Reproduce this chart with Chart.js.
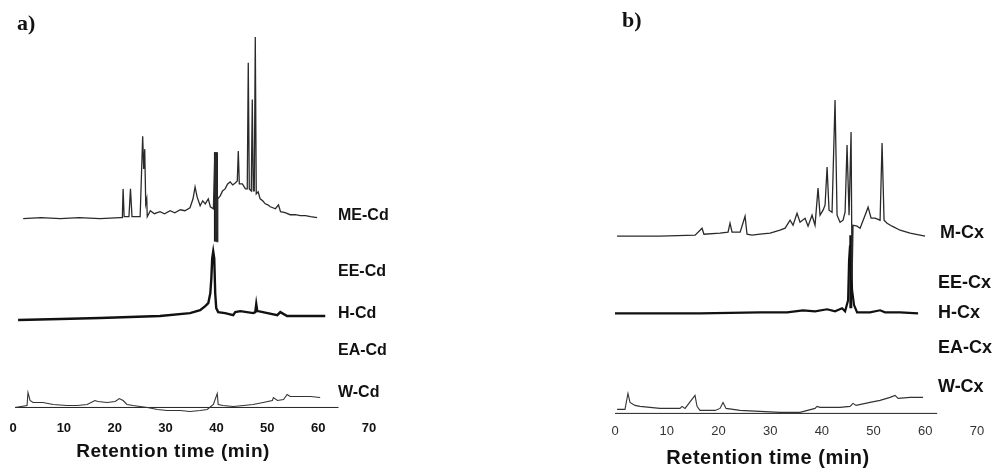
<!DOCTYPE html>
<html>
<head>
<meta charset="UTF-8" />
<title>Retention time chromatograms</title>
<script src="https://cdn.jsdelivr.net/npm/chart.js"></script>
<style>
  body { margin: 0; background: #fff; }
  #page { position: relative; width: 1007px; height: 472px; overflow: hidden; font-family: "Liberation Sans", Arial, sans-serif; color: #111; }
  .panel { position: absolute; top: 0; height: 472px; }
  .tag { position: absolute; font-family: "Liberation Serif", serif; font-weight: bold; font-size: 22px; line-height: 22px; }
  .lbl { position: absolute; font-weight: bold; line-height: 16px; white-space: nowrap; }
  .ax { position: absolute; font-weight: bold; white-space: nowrap; letter-spacing: 0.5px; transform: translate(-50%, -50%); }
</style>
</head>
<body>
<div id="page">
  <div class="panel" style="left:0;width:400px"><canvas id="chartA" width="400" height="472"></canvas></div>
  <div class="panel" style="left:590px;width:417px"><canvas id="chartB" width="417" height="472"></canvas></div>

  <div class="tag" style="left:17px;top:12px">a)</div>
  <div class="tag" style="left:622px;top:9px">b)</div>

  <div class="lbl" style="left:338px;top:207px;font-size:16px">ME-Cd</div>
  <div class="lbl" style="left:338px;top:263px;font-size:16px">EE-Cd</div>
  <div class="lbl" style="left:338px;top:305px;font-size:16px">H-Cd</div>
  <div class="lbl" style="left:338px;top:342px;font-size:16px">EA-Cd</div>
  <div class="lbl" style="left:338px;top:384px;font-size:16px">W-Cd</div>

  <div class="lbl" style="left:940px;top:224px;font-size:18px">M-Cx</div>
  <div class="lbl" style="left:938px;top:274px;font-size:18px">EE-Cx</div>
  <div class="lbl" style="left:938px;top:304px;font-size:18px">H-Cx</div>
  <div class="lbl" style="left:938px;top:339px;font-size:18px">EA-Cx</div>
  <div class="lbl" style="left:938px;top:378px;font-size:18px">W-Cx</div>

  <div class="ax" style="left:173px;top:451px;font-size:19px">Retention time (min)</div>
  <div class="ax" style="left:768px;top:457px;font-size:20px">Retention time (min)</div>
</div>

<script>
// tick labels (minutes)
const xTicks = [0, 10, 20, 30, 40, 50, 60, 70];

// panel a) — [retention time (min), detector response (arbitrary units)]
const meCd = [
  [2.0, 200], [5.5, 201], [9.3, 200], [13.0, 201], [17.1, 200], [21.1, 201], [21.5, 201], [21.65, 230], [21.85, 202],
  [22.8, 202], [23.1, 230], [23.4, 202], [25.0, 202], [25.5, 283], [25.7, 250], [25.9, 270],
  [26.1, 215], [26.3, 220], [26.4, 202], [27.0, 208], [27.8, 205], [28.9, 207], [29.8, 205], [30.9, 208],
  [31.8, 206], [32.9, 209], [33.8, 208], [34.8, 211], [35.4, 220], [35.8, 232], [36.2, 222], [36.8, 213],
  [37.3, 218], [37.8, 215], [38.4, 220], [38.8, 212], [39.4, 210], [39.7, 267], [39.8, 177], [39.96, 267],
  [40.12, 177], [40.26, 220], [40.75, 223], [41.2, 228], [41.7, 230], [42.2, 235], [42.7, 237], [43.2, 234],
  [43.7, 236], [44.1, 238], [44.3, 268], [44.5, 235], [45.1, 235], [45.7, 230], [46.06, 230], [46.26, 357],
  [46.46, 230], [46.85, 228], [47.05, 320], [47.24, 228], [47.44, 228], [47.64, 383], [47.83, 225],
  [48.2, 227], [48.6, 220], [49.1, 218], [49.6, 215], [50.1, 214], [50.6, 212], [51.6, 210], [52.2, 214],
  [52.6, 207], [53.5, 206], [54.5, 204], [55.5, 204], [56.5, 203], [57.5, 203], [58.5, 202], [59.8, 201]
];
const meCdBar = [[39.9, 267], [39.9, 177]];
const hCd = [
  [1.0, 98], [9.3, 99], [17.1, 100], [28.9, 102], [34.8, 105], [36.8, 108], [37.8, 112], [38.4, 115],
  [38.8, 125], [39.0, 140], [39.17, 160], [39.37, 167], [39.57, 160], [39.76, 125], [39.96, 110],
  [40.35, 106], [41.7, 105], [43.3, 103], [43.7, 106], [44.7, 107], [47.24, 105], [47.64, 106],
  [47.83, 114], [48.03, 107], [48.2, 107], [51.97, 103], [52.56, 106], [53.9, 102], [61.4, 102]
];
const wCd = [
  [0.4, 10], [2.76, 12], [2.95, 25], [3.35, 17], [3.94, 15], [5.9, 15], [7.9, 13], [10.6, 12],
  [12.6, 12], [14.6, 13], [16.1, 17], [16.7, 16], [18.5, 15], [20.1, 16], [20.9, 19], [21.65, 17],
  [22.4, 13], [23.6, 12], [26.4, 10], [28.4, 8], [30.3, 7], [32.9, 7], [34.8, 6], [36.8, 7],
  [38.2, 8], [39.4, 13], [40.16, 24], [40.35, 13], [41.3, 12], [43.3, 11], [45.3, 12], [47.2, 13],
  [49.2, 15], [51.0, 17], [51.2, 20], [52.0, 17], [53.2, 18], [53.9, 23], [54.5, 21], [56.5, 21],
  [58.5, 21], [60.4, 20]
];
const wCdBase = [[0.4, 10], [64.0, 10]];

// panel b)
const mCx = [
  [0.4, 184], [8.7, 184], [15.5, 185], [16.83, 192], [17.2, 186], [20.3, 187], [21.86, 188],
  [22.24, 197], [22.63, 188], [24.2, 188], [25.15, 204], [25.53, 186], [26.5, 185], [28.05, 186],
  [30.0, 187], [31.9, 190], [32.9, 192], [33.85, 200], [34.43, 195], [35.2, 207], [35.78, 198],
  [36.75, 202], [37.33, 194], [38.1, 205], [38.68, 195], [39.26, 232], [39.65, 205], [40.23, 210],
  [40.62, 215], [41.01, 253], [41.39, 210], [41.97, 208], [42.55, 320], [42.94, 205], [43.52, 198],
  [44.1, 200], [44.49, 208], [44.87, 275], [45.26, 205], [45.65, 288], [45.84, 140], [46.03, 195],
  [46.81, 194], [47.39, 192], [48.36, 205], [48.94, 213], [49.52, 202], [50.29, 202], [51.26, 200],
  [51.64, 277], [52.03, 200], [52.61, 197], [53.58, 194], [55.13, 190], [57.06, 187], [59.96, 184]
];
const hCx = [
  [0, 107], [16.4, 107], [28.05, 108], [33.27, 108], [36.36, 110], [38.68, 109], [41.01, 111],
  [42.55, 109], [43.91, 112], [44.49, 109], [45.07, 120], [45.26, 160], [45.45, 175], [45.65, 160],
  [45.84, 130], [46.23, 115], [46.81, 108], [49.32, 108], [51.26, 110], [52.22, 108], [55.13, 108],
  [58.61, 107]
];
const mhCxBar = [[45.6, 185], [45.6, 112]];
const wCx = [
  [0.4, 11], [1.93, 11], [2.51, 27], [2.9, 18], [3.87, 15], [4.84, 14], [8.7, 12], [12.57, 12],
  [12.96, 14], [13.54, 12], [15.47, 25], [15.86, 14], [16.44, 10], [19.34, 10], [20.31, 12],
  [20.89, 18], [21.47, 12], [24.18, 10], [28.05, 9], [31.91, 8], [35.78, 8], [38.68, 12],
  [39.07, 14], [39.65, 13], [43.52, 13], [45.45, 14], [46.03, 17], [46.62, 15], [49.32, 18],
  [51.26, 20], [53.19, 23], [54.16, 25], [54.74, 22], [57.06, 23], [59.57, 23]
];
const wCxBase = [[0, 7], [62.3, 7]];

function trace(points, width, color) {
  return {
    data: points.map(p => ({ x: p[0], y: p[1] })),
    borderColor: color,
    borderWidth: width,
    pointRadius: 0,
    tension: 0,
    fill: false
  };
}

function makeChart(id, datasets, padding, tickFont, tickColor) {
  new Chart(document.getElementById(id), {
    type: 'line',
    data: { datasets: datasets },
    options: {
      responsive: false,
      animation: false,
      layout: { padding: padding },
      plugins: { legend: { display: false }, tooltip: { enabled: false } },
      scales: {
        x: {
          type: 'linear',
          min: 0,
          max: 70,
          grid: { display: false, drawTicks: false },
          border: { display: false },
          afterBuildTicks: axis => { axis.ticks = xTicks.map(v => ({ value: v })); },
          ticks: { padding: 3, autoSkip: false, maxRotation: 0, color: tickColor, font: tickFont }
        },
        y: { display: false, min: 0, max: 400 }
      }
    }
  });
}

makeChart('chartA', [
  trace(meCd, 1.3, '#2a2a2a'),
  trace(meCdBar, 4, '#111'),
  trace(hCd, 2.4, '#111'),
  trace(wCd, 1.1, '#333'),
  trace(wCdBase, 1, '#222')
], { left: 13, right: 31, top: 20, bottom: 33 },
   { family: 'Liberation Sans', size: 13, weight: 'bold' }, '#111');

makeChart('chartB', [
  trace(mCx, 1.3, '#2a2a2a'),
  trace(hCx, 2.2, '#111'),
  trace(mhCxBar, 3, '#111'),
  trace(wCx, 1.1, '#333'),
  trace(wCxBase, 1, '#222')
], { left: 25, right: 30, top: 20, bottom: 30 },
   { family: 'Liberation Sans', size: 13 }, '#333');
</script>
</body>
</html>
